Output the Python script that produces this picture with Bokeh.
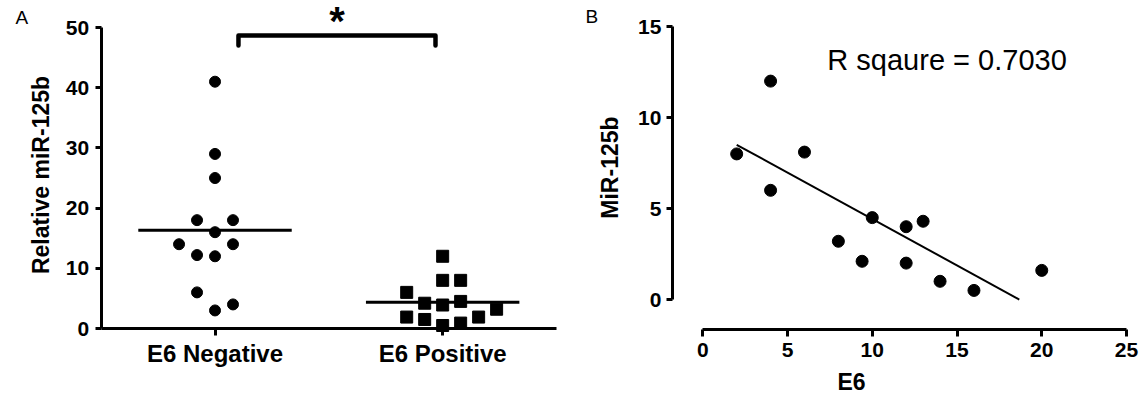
import numpy as np
from bokeh.plotting import figure
from bokeh.layouts import row
from bokeh.models import Range1d, FixedTicker, Label
from bokeh.embed import file_html
from bokeh.resources import INLINE

# ---------------- data ----------------
groups = ["E6 Negative", "E6 Positive"]
neg_values = [41, 29, 25, 18, 18, 16, 14, 14, 12.2, 12, 6, 4, 3]
neg_cols = [0, 0, 0, -1, 1, 0, -2, 1, -1, 0, -1, 1, 0]
pos_values = [12, 8, 8, 6, 4.2, 3.9, 4.5, 3.2, 1.9, 1.5, 1.9, 0.5, 0.9]
pos_cols = [0, 0, 1, -2, -1, 0, 1, 3, -2, -1, 2, 0, 1]

e6_values = [2, 4, 4, 6, 8, 9.4, 10, 12, 12, 13, 14, 16, 20]
mir_values = [8, 12, 6, 8.1, 3.2, 2.1, 4.5, 4, 2, 4.3, 1, 0.5, 1.6]
r_square_text = "R sqaure = 0.7030"

a_ylabel = "Relative miR-125b"
b_ylabel = "MiR-125b"
b_xlabel = "E6"
a_yticks = [0, 10, 20, 30, 40, 50]
b_yticks = [0, 5, 10, 15]
b_xticks = [0, 5, 10, 15, 20, 25]

FONT = "Liberation Sans"


def style_axis(ax, tick_size="21px", tick_out=7, standoff=5):
    ax.axis_line_width = 3
    ax.axis_line_color = "black"
    ax.major_tick_line_width = 3
    ax.major_tick_line_color = "black"
    ax.major_tick_out = tick_out
    ax.major_tick_in = 0
    ax.minor_tick_line_color = None
    ax.major_label_text_font = FONT
    ax.major_label_text_font_style = "bold"
    ax.major_label_text_font_size = tick_size
    ax.major_label_text_color = "black"
    ax.major_label_standoff = standoff
    ax.axis_label_text_font = FONT
    ax.axis_label_text_font_style = "bold"
    ax.axis_label_text_font_size = "23px"
    ax.axis_label_text_color = "black"


def clean(p):
    p.xgrid.visible = False
    p.ygrid.visible = False
    p.outline_line_color = None
    p.background_fill_color = "white"
    p.border_fill_color = "white"


def text_label(p, x, y, text, size, bold=False, align="left", angle=0.0, baseline="alphabetic"):
    p.add_layout(Label(x=x, y=y, text=text, text_align=align, text_baseline=baseline,
                       angle=angle, text_font=FONT,
                       text_font_style="bold" if bold else "normal",
                       text_font_size=size, text_color="black"))


# ---------------- panel A ----------------
pA = figure(x_range=Range1d(0.0577, 2.5879), y_range=Range1d(-6.977, 54.49),
            frame_width=576, frame_height=370,
            min_border_left=0, min_border_right=0, min_border_top=0, min_border_bottom=0,
            output_backend="svg", toolbar_location=None)
clean(pA)
style_axis(pA.yaxis[0], "21px", 6, 6)
style_axis(pA.xaxis[0], "24px", 7, 4)
pA.yaxis.fixed_location = 0.5
pA.yaxis.bounds = (0, 50)
pA.yaxis.ticker = FixedTicker(ticks=a_yticks)
pA.xaxis.fixed_location = 0
pA.xaxis.bounds = (0.5, 2.5)
pA.xaxis.ticker = FixedTicker(ticks=[1, 2])
pA.xaxis.major_label_overrides = {1: groups[0], 2: groups[1]}

col_step = 0.079
neg_x = [1 + c * col_step for c in neg_cols]
pos_x = [2 + c * col_step for c in pos_cols]
pA.scatter(neg_x, neg_values, marker="circle", size=11, color="black")
pA.scatter(pos_x, pos_values, marker="square", size=12, color="black")

half = 0.337
means = [float(np.mean(neg_values)), float(np.mean(pos_values))]
pA.segment(x0=[1 - half, 2 - half], x1=[1 + half, 2 + half], y0=means, y1=means,
           line_color="black", line_width=3)

# significance bracket
bx0, bx1, by_top, by_end = 1.103, 1.9685, 48.67, 47.0
pA.line([bx0, bx0, bx1, bx1], [by_end, by_top, by_top, by_end],
        line_color="black", line_width=4.5, line_join="round", line_cap="round")
text_label(pA, (bx0 + bx1) / 2, 51.15, "*", "40px", bold=True, align="center")
text_label(pA, 0.1236, 51.74, "A", "19px")
text_label(pA, 0.2378, 25.5, a_ylabel, "23px", bold=True, align="center",
           angle=np.pi / 2, baseline="middle")

# ---------------- panel B ----------------
pB = figure(x_range=Range1d(-7.451, 25), y_range=Range1d(-1.648, 16.43),
            frame_width=550, frame_height=329,
            min_border_left=0, min_border_right=16, min_border_top=0, min_border_bottom=5,
            output_backend="svg", toolbar_location=None)
clean(pB)
style_axis(pB.yaxis[0], "21px", 6, 5)
style_axis(pB.xaxis[0], "21px", 7, 6)
pB.yaxis.fixed_location = -1.788
pB.yaxis.bounds = (0, 15)
pB.xaxis.bounds = (0, 25)
pB.yaxis.ticker = FixedTicker(ticks=b_yticks)
pB.xaxis.ticker = FixedTicker(ticks=b_xticks)
pB.xaxis.axis_label = b_xlabel
pB.xaxis.axis_label_standoff = 9

slope, intercept = np.polyfit(e6_values, mir_values, 1)
fx0 = min(e6_values)
fx1 = -intercept / slope
pB.line([fx0, fx1], [slope * fx0 + intercept, slope * fx1 + intercept],
        line_color="black", line_width=2)
pB.scatter(e6_values, mir_values, marker="circle", size=12, color="black")

text_label(pB, 7.35, 13.17, r_square_text, "29px")
text_label(pB, -6.92, 15.545, "B", "19px")
text_label(pB, -5.445, 7.25, b_ylabel, "23px", bold=True, align="center",
           angle=np.pi / 2, baseline="middle")

layout = row(pA, pB)
open("out.html", "w").write(file_html(layout, INLINE))
